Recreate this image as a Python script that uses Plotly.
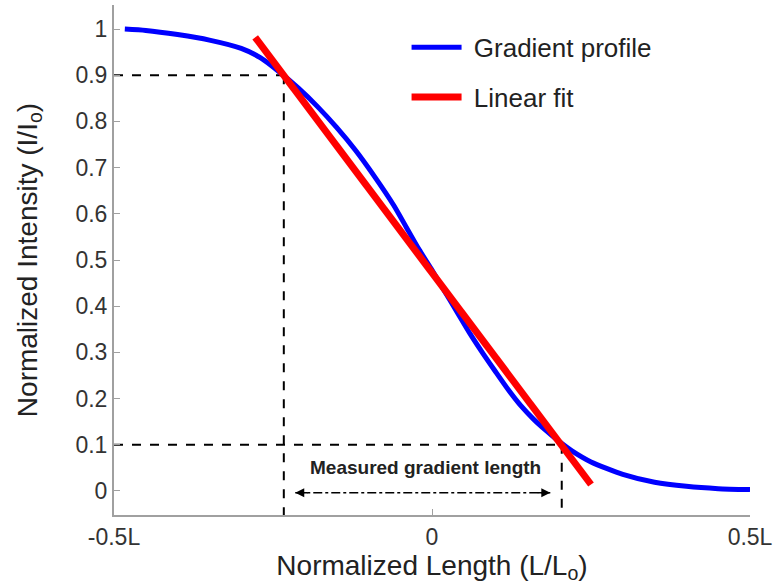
import plotly.graph_objects as go

# Blue gradient profile
profile_x = [-0.483, -0.45, -0.40, -0.35, -0.30, -0.27, -0.24, -0.21, -0.18, -0.15, -0.12,
             -0.09, -0.06, -0.04, -0.02, 0.00, 0.02, 0.04, 0.06, 0.08, 0.10, 0.12, 0.14,
             0.16, 0.18, 0.20, 0.22, 0.25, 0.30, 0.35, 0.40, 0.45, 0.50]
profile_y = [1.000, 0.997, 0.988, 0.976, 0.958, 0.938, 0.907, 0.872, 0.832, 0.787, 0.737,
             0.680, 0.618, 0.570, 0.522, 0.478, 0.432, 0.386, 0.340, 0.298, 0.258, 0.219, 0.184,
             0.155, 0.130, 0.107, 0.087, 0.063, 0.036, 0.019, 0.010, 0.005, 0.003]

# Linear fit end points
fit_x = [-0.278, 0.250]
fit_y = [0.982, 0.014]

# Crossing points (90% and 10%)
x90, y90 = -0.233, 0.9
x10, y10 = 0.204, 0.1

# Measured-length arrow
arrow_x = [-0.215, 0.186]
arrow_y = -0.004

x_ticks = [-0.5, 0, 0.5]
x_ticklabels = ["-0.5L", "0", "0.5L"]
y_ticks = [0, 0.1, 0.2, 0.3, 0.4, 0.5, 0.6, 0.7, 0.8, 0.9, 1]
y_ticklabels = ["0", "0.1", "0.2", "0.3", "0.4", "0.5", "0.6", "0.7", "0.8", "0.9", "1"]

y_min, y_max = -0.052, 1.052

fig = go.Figure()

dash_style = dict(color="black", width=2, dash="dash")
fig.add_trace(go.Scatter(x=[-0.5, x90], y=[y90, y90], mode="lines", line=dash_style,
                         showlegend=False, hoverinfo="skip"))
fig.add_trace(go.Scatter(x=[x90, x90], y=[y90, y_min], mode="lines", line=dash_style,
                         showlegend=False, hoverinfo="skip"))
fig.add_trace(go.Scatter(x=[-0.5, x10], y=[y10, y10], mode="lines", line=dash_style,
                         showlegend=False, hoverinfo="skip"))
fig.add_trace(go.Scatter(x=[x10, x10], y=[y10, y_min], mode="lines", line=dash_style,
                         showlegend=False, hoverinfo="skip"))

fig.add_trace(go.Scatter(x=arrow_x, y=[arrow_y, arrow_y], mode="lines",
                         line=dict(color="black", width=1.5, dash="dashdot"),
                         showlegend=False, hoverinfo="skip"))

fig.add_trace(go.Scatter(x=profile_x, y=profile_y, mode="lines", name="\u00a0Gradient profile",
                         line=dict(color="#0000ff", width=5, shape="spline", smoothing=0.6),
                         legendgroup="a"))
fig.add_trace(go.Scatter(x=fit_x, y=fit_y, mode="lines", name="\u00a0Linear fit",
                         line=dict(color="#ff0000", width=7), legendgroup="b"))

# arrow heads
for xe, dx in [(arrow_x[0], 14), (arrow_x[1], -14)]:
    fig.add_annotation(x=xe, y=arrow_y, ax=dx, ay=0, showarrow=True, text="",
                       arrowhead=2, arrowsize=1.2, arrowwidth=1.5, arrowcolor="black")

fig.add_annotation(x=(arrow_x[0] + arrow_x[1]) / 2 + 0.005, y=0.05,
                   text="<b>Measured gradient length</b>", showarrow=False,
                   font=dict(family="Liberation Sans, Arial", size=19, color="#222"))

fig.update_layout(
    width=774, height=585,
    margin=dict(l=114, r=24, t=5, b=70, autoexpand=False),
    plot_bgcolor="white", paper_bgcolor="white",
    font=dict(family="Liberation Sans, Arial", color="#222"),
    legend=dict(x=0.46, y=0.963, xanchor="left", yanchor="top",
                font=dict(size=26, color="#222"), tracegroupgap=13, itemwidth=50,
                bgcolor="rgba(0,0,0,0)"),
    xaxis=dict(range=[-0.5, 0.5], tickvals=x_ticks, ticktext=x_ticklabels,
               showgrid=False, zeroline=False, showline=True, linecolor="#a0a0a0",
               linewidth=2, ticks="inside", ticklen=6, tickcolor="#a0a0a0",
               tickfont=dict(size=23, color="#333"), automargin=False,
               title=dict(text="Normalized Length (L/L<sub>o</sub>)",
                          font=dict(size=28, color="#222"), standoff=0)),
    yaxis=dict(range=[y_min, y_max], tickvals=y_ticks, ticktext=y_ticklabels,
               showgrid=False, zeroline=False, showline=True, linecolor="#a0a0a0",
               linewidth=2, ticks="inside", ticklen=6, tickcolor="#a0a0a0",
               tickfont=dict(size=23, color="#333"), automargin=False,
               title=dict(text="Normalized Intensity (I/I<sub>o</sub>)",
                          font=dict(size=28, color="#222"), standoff=30)),
)

fig.write_html("out.html")
